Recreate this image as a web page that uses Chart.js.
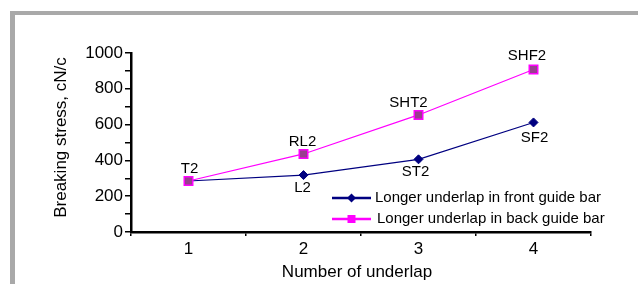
<!DOCTYPE html>
<html>
<head>
<meta charset="utf-8">
<script src="https://cdn.jsdelivr.net/npm/chart.js@4"></script>
<style>
  html, body { margin: 0; padding: 0; background: #fff; }
  canvas { display: block; }
</style>
</head>
<body>
<canvas id="c" width="638" height="284"></canvas>
<script>
// ---- data ----
const categories = ['1', '2', '3', '4'];
const frontValues = [285, 318, 406, 612];
const backValues = [285, 436, 654, 908];
const frontLabels = ['T2', 'L2', 'ST2', 'SF2'];
const backLabels = ['', 'RL2', 'SHT2', 'SHF2'];
const frontName = 'Longer underlap in front guide bar';
const backName = 'Longer underlap in back guide bar';
const yTitle = 'Breaking stress, cN/c';
const xTitle = 'Number of underlap';
const yMin = 0, yMax = 1000, yStep = 100, yLabelStep = 200;

const FONT = '"Liberation Sans", Arial, Helvetica, sans-serif';
const NAVY = '#000080';
const MAGENTA = '#FF00FF';

// label placement (style only)
const frontLabelOffsets = [[1, -12], [-1, 12.5], [-3, 12.5], [1, 15]];
const backLabelOffsets = [[0, -12], [-1, -12], [-10, -12.5], [-6.5, -13.5]];

const framePlugin = {
  id: 'frame',
  beforeDraw(chart) {
    const ctx = chart.ctx;
    ctx.save();
    ctx.fillStyle = '#fff';
    ctx.fillRect(0, 0, chart.width, chart.height);
    ctx.fillStyle = '#a9a9a9';
    ctx.fillRect(10, 11, chart.width - 10, 4);
    ctx.fillRect(10, 11, 5, chart.height - 11);
    ctx.restore();
  }
};

const labelsPlugin = {
  id: 'pointLabels',
  afterDatasetsDraw(chart) {
    const ctx = chart.ctx;
    ctx.save();
    ctx.font = '15px ' + FONT;
    ctx.fillStyle = '#000';
    ctx.textAlign = 'center';
    ctx.textBaseline = 'middle';
    chart.data.datasets.forEach((ds, di) => {
      const meta = chart.getDatasetMeta(di);
      meta.data.forEach((pt, i) => {
        const txt = ds.pointTexts[i];
        if (!txt) return;
        const off = ds.textOffsets[i];
        ctx.fillText(txt, pt.x + off[0], pt.y + off[1]);
      });
    });
    ctx.restore();
  }
};

const titlesPlugin = {
  id: 'axisTitles',
  afterDraw(chart) {
    const ctx = chart.ctx;
    const a = chart.chartArea;
    ctx.save();
    ctx.font = '17px ' + FONT;
    ctx.fillStyle = '#000';
    ctx.textAlign = 'center';
    ctx.textBaseline = 'middle';
    ctx.fillText(xTitle, (a.left + a.right) / 2 - 4, 272);
    ctx.translate(61, (a.top + a.bottom) / 2 - 5);
    ctx.rotate(-Math.PI / 2);
    ctx.fillText(yTitle, 0, 0);
    ctx.restore();
  }
};

const legendPlugin = {
  id: 'customLegend',
  afterDraw(chart) {
    const ctx = chart.ctx;
    const items = [
      { ds: chart.data.datasets[1], y: 198 },
      { ds: chart.data.datasets[0], y: 219 }
    ];
    ctx.save();
    items.forEach(it => {
      const ds = it.ds;
      ctx.strokeStyle = ds.borderColor;
      ctx.lineWidth = 2.5;
      ctx.beginPath();
      ctx.moveTo(332, it.y);
      ctx.lineTo(371, it.y);
      ctx.stroke();
      ctx.fillStyle = ds.borderColor;
      ctx.beginPath();
      if (ds.pointStyle === 'rectRot') {
        ctx.moveTo(351.5, it.y - 4.5);
        ctx.lineTo(356, it.y);
        ctx.lineTo(351.5, it.y + 4.5);
        ctx.lineTo(347, it.y);
        ctx.closePath();
      } else {
        ctx.rect(347.5, it.y - 4, 8, 8);
      }
      ctx.fill();
      ctx.font = '15px ' + FONT;
      ctx.fillStyle = '#000';
      ctx.textAlign = 'left';
      ctx.textBaseline = 'middle';
      ctx.fillText(ds.label, ds.pointStyle === 'rectRot' ? 375 : 377, it.y);
    });
    ctx.restore();
  }
};

new Chart(document.getElementById('c'), {
  type: 'line',
  data: {
    labels: categories,
    datasets: [
      {
        label: backName,
        data: backValues,
        pointTexts: backLabels,
        textOffsets: backLabelOffsets,
        borderColor: MAGENTA,
        backgroundColor: '#993F8F',
        borderWidth: 1.2,
        pointStyle: 'rect',
        pointRadius: 6,
        pointBorderWidth: 1.5,
        pointBorderColor: MAGENTA,
        pointBackgroundColor: '#993F8F',
        tension: 0,
        order: 0
      },
      {
        label: frontName,
        data: frontValues,
        pointTexts: frontLabels,
        textOffsets: frontLabelOffsets,
        borderColor: NAVY,
        backgroundColor: NAVY,
        borderWidth: 1.2,
        pointStyle: 'rectRot',
        pointRadius: 4.5,
        pointBorderWidth: 1,
        pointBorderColor: NAVY,
        pointBackgroundColor: NAVY,
        tension: 0,
        order: 1
      }
    ]
  },
  options: {
    responsive: false,
    animation: false,
    devicePixelRatio: 1,
    layout: { padding: { top: 53, right: 47, left: 0, bottom: 0 } },
    plugins: {
      legend: { display: false },
      tooltip: { enabled: false }
    },
    scales: {
      x: {
        type: 'category',
        offset: true,
        border: { display: true, color: '#000', width: 2.5 },
        grid: { display: true, offset: true, drawOnChartArea: false, drawTicks: true, tickLength: 4, color: '#000', lineWidth: 1.5 },
        ticks: { color: '#000', font: { family: FONT, size: 17 }, padding: 3, maxRotation: 0 },
        afterFit(scale) { scale.height = 52; }
      },
      y: {
        min: yMin,
        max: yMax,
        border: { display: true, color: '#000', width: 2.5 },
        grid: { display: true, drawOnChartArea: false, drawTicks: true, tickLength: 6, color: '#000', lineWidth: 1.5 },
        ticks: {
          stepSize: yStep,
          color: '#000',
          font: { family: FONT, size: 17 },
          padding: 2,
          autoSkip: false,
          callback: v => (v % yLabelStep === 0 ? String(v) : '')
        },
        afterFit(scale) { scale.width = 131; }
      }
    }
  },
  plugins: [framePlugin, labelsPlugin, titlesPlugin, legendPlugin]
});
</script>
</body>
</html>
